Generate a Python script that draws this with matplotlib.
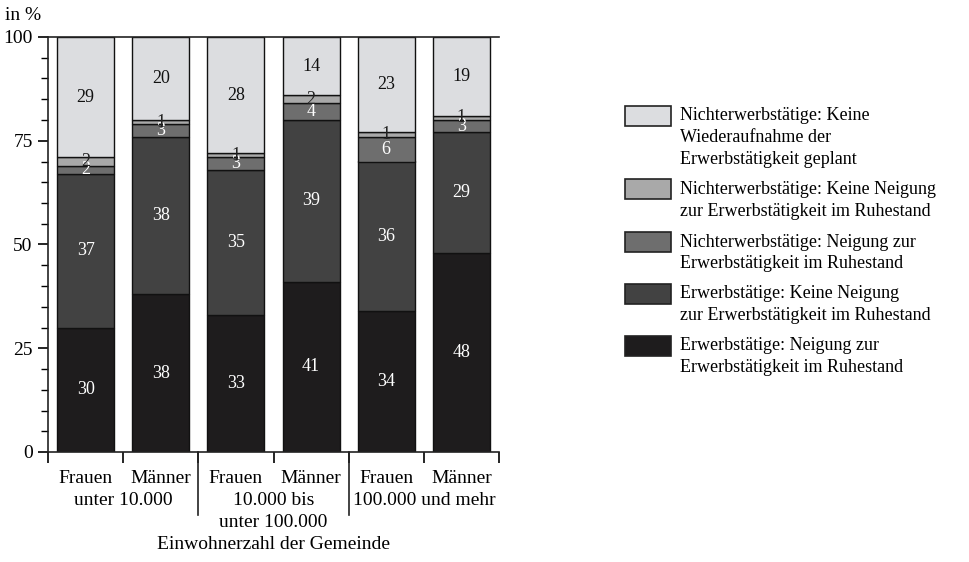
import matplotlib
matplotlib.use("Agg")
import matplotlib.pyplot as plt
from matplotlib.patches import Rectangle
import matplotlib.transforms as mtransforms

plt.rcParams['font.family'] = ['Liberation Serif', 'DejaVu Serif']

bars = ["Frauen", "Männer", "Frauen", "Männer", "Frauen", "Männer"]
groups = ["unter 10.000", "10.000 bis\nunter 100.000", "100.000 und mehr"]
xlabel = "Einwohnerzahl der Gemeinde"

# bottom to top
erw_neigung = [30, 38, 33, 41, 34, 48]
erw_keine = [37, 38, 35, 39, 36, 29]
nerw_neigung = [2, 3, 3, 4, 6, 3]
nerw_keine_neigung = [2, 1, 1, 2, 1, 1]
nerw_keine_wieder = [29, 20, 28, 14, 23, 19]

series = [erw_neigung, erw_keine, nerw_neigung, nerw_keine_neigung, nerw_keine_wieder]
colors = ["#1e1c1d", "#424242", "#6e6e6e", "#a9a9a9", "#dcdde0"]
text_colors = ["white", "white", "white", "#222222", "#111111"]

legend_labels = [
    "Nichterwerbstätige: Keine\nWiederaufnahme der\nErwerbstätigkeit geplant",
    "Nichterwerbstätige: Keine Neigung\nzur Erwerbstätigkeit im Ruhestand",
    "Nichterwerbstätige: Neigung zur\nErwerbstätigkeit im Ruhestand",
    "Erwerbstätige: Keine Neigung\nzur Erwerbstätigkeit im Ruhestand",
    "Erwerbstätige: Neigung zur\nErwerbstätigkeit im Ruhestand",
]
legend_colors = colors[::-1]

W, H = 969, 562
fig = plt.figure(figsize=(W / 100, H / 100), dpi=100)
ax = fig.add_axes([48 / W, 1 - 452 / H, (499 - 48) / W, (452 - 37) / H])

x = [i + 0.5 for i in range(len(bars))]
bottoms = [0] * len(bars)
for vals, c, tc in zip(series, colors, text_colors):
    ax.bar(x, vals, width=0.76, bottom=bottoms, color=c, edgecolor="#111111", linewidth=1.0, zorder=2)
    for xi, v, b in zip(x, vals, bottoms):
        ax.text(xi, b + v / 2, str(v), ha="center", va="center", fontsize=13, color=tc, zorder=3)
    bottoms = [b + v for b, v in zip(bottoms, vals)]

ax.set_xlim(0, 6)
ax.set_ylim(0, 100)
ax.spines['right'].set_visible(False)
for s in ['left', 'bottom', 'top']:
    ax.spines[s].set_linewidth(1.2)
    ax.spines[s].set_color("#222222")
ax.set_yticks([0, 25, 50, 75, 100])
ax.set_yticks(range(0, 101, 5), minor=True)
ax.tick_params(axis='y', which='major', length=7, width=1.2, labelsize=14, pad=4)
ax.tick_params(axis='y', which='minor', length=5, width=1.0)
ax.set_xticks(range(0, 7))
ax.set_xticklabels([])
ax.tick_params(axis='x', which='major', length=8, width=1.2, direction='out')

trans = mtransforms.blended_transform_factory(ax.transData, ax.transAxes)
for xi, lab in zip(x, bars):
    ax.text(xi, -0.063, lab, transform=trans, ha="center", va="center", fontsize=14)
line_offsets = [-0.116, -0.169]
for gi, g in enumerate(groups):
    for li, line in enumerate(g.split("\n")):
        ax.text(2 * gi + 1, line_offsets[li], line, transform=trans, ha="center", va="center", fontsize=14)
ax.text(3, -0.224, xlabel, transform=trans, ha="center", va="center", fontsize=14)
for xs in [2, 4]:
    ax.plot([xs, xs], [0, -0.152], transform=trans, color="#222222", lw=1.2, clip_on=False)

fig.text(5 / W, 1 - 16 / H, "in %", ha="left", va="center", fontsize=14)

# legend
patch_tops = [106, 179, 232, 284, 336]
line_h = 22
for lab, c, top in zip(legend_labels, legend_colors, patch_tops):
    fig.patches.append(Rectangle((625 / W, 1 - (top + 20) / H), 46 / W, 20 / H,
                                 transform=fig.transFigure, facecolor=c,
                                 edgecolor="#222222", linewidth=1.2))
    for li, line in enumerate(lab.split("\n")):
        fig.text(680 / W, 1 - (top + 10 + li * line_h) / H, line, ha="left", va="center", fontsize=13)

fig.savefig("out.png", dpi=100)
